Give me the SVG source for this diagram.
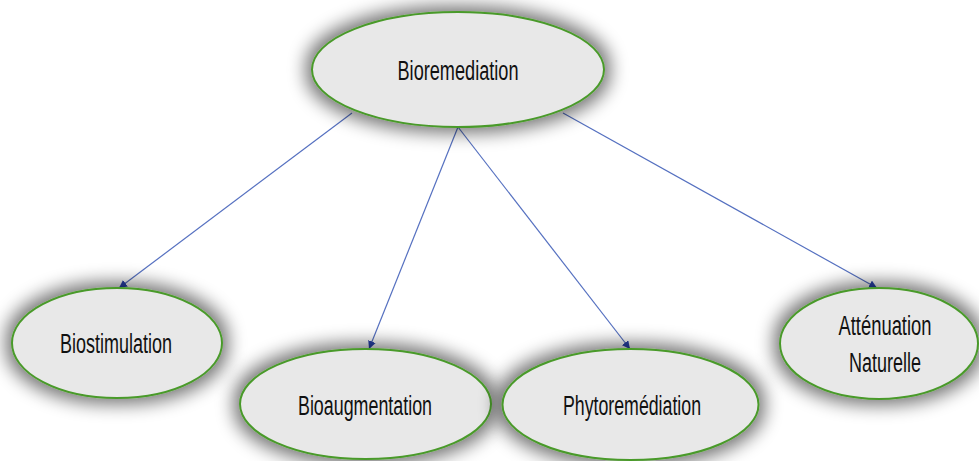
<svg xmlns="http://www.w3.org/2000/svg" width="979" height="461" viewBox="0 0 979 461">
<style>
.node ellipse{fill:#e8e8e8;stroke:#4a9a2a;stroke-width:2}
.node text{font-family:"Liberation Sans Narrow","Liberation Sans",sans-serif;font-size:27px;fill:#111;text-anchor:middle}
.conn line{stroke:#5570c0;stroke-width:1.2;marker-end:url(#arr)}
</style>
<defs>
<filter id="sh" x="-40%" y="-60%" width="180%" height="220%">
<feMorphology in="SourceAlpha" operator="dilate" radius="5" result="d"/>
<feGaussianBlur in="d" stdDeviation="9" result="b"/>
<feComponentTransfer in="b" result="c"><feFuncA type="linear" slope="0.55"/></feComponentTransfer>
<feMerge><feMergeNode in="c"/><feMergeNode in="SourceGraphic"/></feMerge>
</filter>
<marker id="arr" viewBox="0 0 10 10" refX="10" refY="5" markerWidth="8" markerHeight="8" markerUnits="userSpaceOnUse" orient="auto">
<path d="M0,0 L10,5 L0,10 z" fill="#2a44b0"/>
</marker>
</defs>
<rect width="979" height="461" fill="#fff"/>
<g id="connectors" class="conn">
<line x1="352" y1="113" x2="119" y2="288"/>
<line x1="458" y1="127" x2="369" y2="349"/>
<line x1="458" y1="127" x2="630" y2="349"/>
<line x1="563" y1="113" x2="877" y2="288"/>
</g>
<g id="bioremediation" class="node">
<ellipse cx="458" cy="69.5" rx="146" ry="57.5" filter="url(#sh)"/>
<text x="458" y="80" textLength="121" lengthAdjust="spacingAndGlyphs">Bioremediation</text>
</g>
<g id="biostimulation" class="node">
<ellipse cx="117" cy="343" rx="105" ry="55" filter="url(#sh)"/>
<text x="116" y="353" textLength="112" lengthAdjust="spacingAndGlyphs">Biostimulation</text>
</g>
<g id="bioaugmentation" class="node">
<ellipse cx="365.5" cy="404" rx="125.5" ry="55" filter="url(#sh)"/>
<text x="365" y="415" textLength="134" lengthAdjust="spacingAndGlyphs">Bioaugmentation</text>
</g>
<g id="phytoremediation" class="node">
<ellipse cx="630.5" cy="404.5" rx="128" ry="55.5" filter="url(#sh)"/>
<text x="632" y="415" textLength="138" lengthAdjust="spacingAndGlyphs">Phytoremédiation</text>
</g>
<g id="attenuation" class="node">
<ellipse cx="879" cy="343.5" rx="99" ry="55.5" filter="url(#sh)"/>
<text x="885" y="335" textLength="93" lengthAdjust="spacingAndGlyphs">Atténuation</text>
<text x="885" y="372" textLength="72" lengthAdjust="spacingAndGlyphs">Naturelle</text>
</g>
</svg>
